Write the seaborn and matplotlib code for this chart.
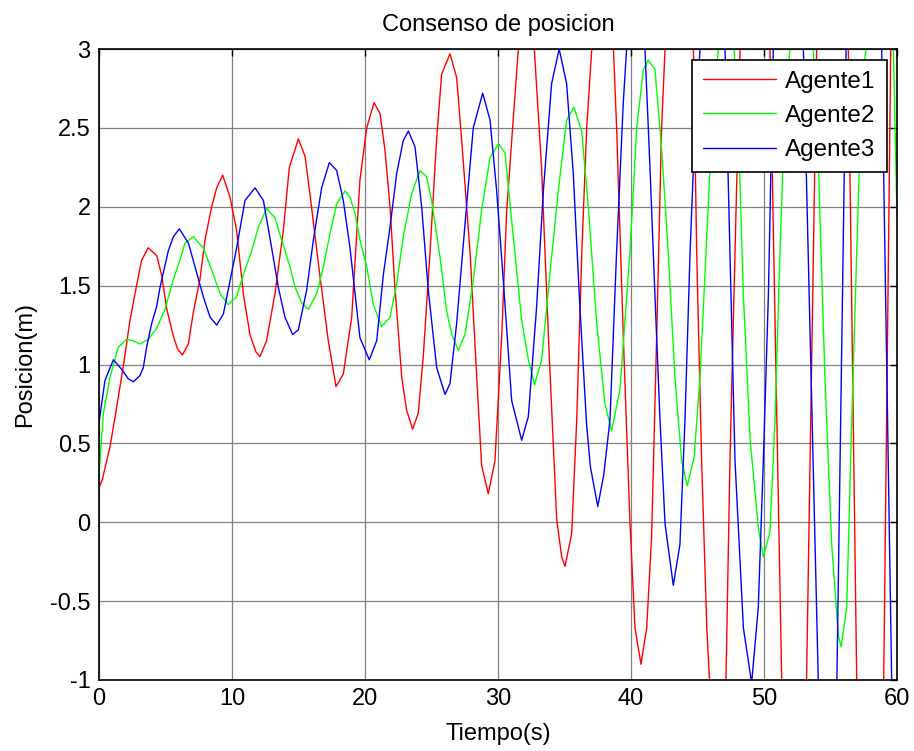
import matplotlib
matplotlib.use("Agg")
import matplotlib.pyplot as plt
import seaborn as sns
import pandas as pd

t_agente1 = [0.0, 0.25, 0.83, 1.33, 1.83, 2.33, 2.71, 3.2, 3.7, 4.34, 4.7, 5.1, 5.59, 5.9, 6.27, 6.72,
             7.09, 7.59, 7.97, 8.47, 8.85, 9.3, 9.85, 10.35, 10.85, 11.35, 11.8, 12.1, 12.6, 13.23,
             13.86, 14.31, 14.99, 15.49, 15.86, 16.6, 17.24, 17.82, 18.37, 19.0, 19.62, 20.13, 20.68,
             21.13, 21.5, 21.88, 22.25, 22.76, 23.13, 23.58, 24.0, 24.38, 24.88, 25.38, 25.76, 26.39,
             26.89, 27.27, 27.9, 28.4, 28.77, 29.27, 29.77, 30.28, 30.65, 31.15, 31.53, 32.13, 32.73,
             33.28, 33.79, 34.41, 34.79, 35.04, 35.54, 35.92, 36.3, 36.67, 37.05, 37.87, 38.68, 38.92,
             39.42, 39.92, 40.3, 40.75, 41.18, 41.55, 41.93, 42.3, 42.56, 43.62, 44.69, 44.94, 45.31,
             45.7, 45.9, 46.52, 47.14, 47.44, 47.82, 48.2, 49.3, 50.45, 51.33, 52.26, 53.2, 53.96,
             55.15, 56.34, 56.97, 58.0, 59.0, 59.53, 60.0]
y_agente1 = [0.22, 0.27, 0.48, 0.73, 0.99, 1.28, 1.45, 1.66, 1.74, 1.69, 1.57, 1.35, 1.18, 1.10, 1.06, 1.13,
             1.33, 1.54, 1.79, 2.0, 2.12, 2.2, 2.06, 1.85, 1.45, 1.19, 1.08, 1.05, 1.15, 1.45,
             1.85, 2.25, 2.43, 2.32, 2.08, 1.57, 1.15, 0.86, 0.94, 1.30, 2.17, 2.50, 2.66,
             2.59, 2.36, 2.0, 1.49, 0.92, 0.71, 0.59, 0.69, 1.05, 1.70, 2.42, 2.84, 2.97,
             2.82, 2.42, 1.71, 0.92, 0.36, 0.18, 0.39, 1.18, 1.97, 2.56, 3.0, 3.25, 3.0,
             2.24, 1.18, 0.02, -0.22, -0.28, -0.07, 0.65, 1.71, 2.5, 3.0, 3.6, 3.0, 2.5,
             1.18, 0.0, -0.67, -0.90, -0.67, -0.09, 1.18, 2.5, 3.0, 4.2, 3.0, 1.71, 0.39,
             -0.67, -1.0, -1.5, -1.0, 0.39, 1.71, 3.0, 4.7, 3.0, -1.0, -2.2, -1.0, 3.0,
             5.2, 3.0, -1.0, -2.8, -1.0, 3.0, 4.5]

t_agente2 = [0.0, 0.33, 0.83, 1.45, 2.08, 2.58, 3.08, 3.71, 4.34, 4.96, 5.59, 6.0, 6.47, 7.09, 7.84, 8.47,
             9.1, 9.72, 10.35, 10.85, 11.48, 11.98, 12.6, 13.23, 13.73, 14.36, 14.74, 15.24, 15.74,
             16.37, 16.87, 17.37, 17.87, 18.5, 18.87, 19.25, 19.62, 20.13, 20.63, 21.25, 21.88, 22.38,
             22.88, 23.5, 24.13, 24.63, 25.01, 25.64, 26.14, 26.52, 27.02, 27.52, 28.14, 28.77, 29.4,
             30.03, 30.53, 31.15, 31.78, 32.28, 32.75, 33.28, 33.91, 34.53, 35.16, 35.71, 36.29, 36.79,
             37.42, 38.04, 38.54, 39.17, 39.92, 40.43, 40.93, 41.3, 41.8, 42.3, 42.8, 43.3, 43.81,
             44.23, 44.74, 45.19, 45.64, 45.94, 46.32, 46.57, 47.16, 47.75, 48.07, 48.45, 48.96, 49.58,
             49.95, 50.45, 50.83, 51.2, 51.58, 51.95, 52.83, 53.71, 54.1, 54.58, 55.09, 55.59, 55.8,
             56.22, 56.6, 56.97, 57.35, 57.67, 58.7, 59.73, 60.0]
y_agente2 = [0.31, 0.69, 0.92, 1.11, 1.16, 1.15, 1.13, 1.16, 1.23, 1.35, 1.54, 1.64, 1.77, 1.81, 1.74, 1.60,
             1.45, 1.38, 1.43, 1.57, 1.72, 1.87, 1.99, 1.93, 1.79, 1.62, 1.49, 1.39, 1.35,
             1.45, 1.62, 1.83, 2.02, 2.10, 2.06, 1.96, 1.79, 1.62, 1.38, 1.24, 1.30, 1.51,
             1.81, 2.08, 2.23, 2.19, 2.04, 1.68, 1.34, 1.19, 1.09, 1.19, 1.53, 1.98, 2.31,
             2.40, 2.34, 1.81, 1.28, 1.03, 0.87, 1.03, 1.58, 2.10, 2.55, 2.63, 2.48, 2.0,
             1.26, 0.75, 0.58, 0.84, 1.71, 2.5, 2.87, 2.93, 2.87, 2.37, 1.71, 0.92, 0.39,
             0.23, 0.41, 0.92, 1.71, 2.24, 2.77, 3.0, 3.3, 3.0, 2.5, 1.44, 0.52, -0.04,
             -0.22, -0.06, 0.65, 1.71, 2.63, 3.0, 3.7, 3.0, 2.24, 0.92, -0.14, -0.72, -0.79,
             -0.54, 0.65, 1.71, 2.77, 3.0, 4.2, 3.0, 1.93]

t_agente3 = [0.0, 0.45, 1.08, 1.7, 2.2, 2.58, 3.08, 3.33, 3.58, 3.96, 4.34, 4.59, 5.21, 5.59, 6.04, 6.72,
             7.22, 7.84, 8.35, 8.85, 9.35, 9.85, 10.35, 10.98, 11.73, 12.36, 12.98, 13.48, 13.98,
             14.56, 14.99, 15.61, 16.12, 16.74, 17.32, 17.87, 18.37, 18.87, 19.25, 19.62, 20.32, 20.88,
             21.38, 21.88, 22.38, 22.88, 23.26, 23.76, 24.26, 24.76, 25.39, 26.02, 26.39, 26.89, 27.52,
             28.14, 28.85, 29.4, 29.9, 30.4, 31.03, 31.78, 32.28, 32.9, 33.41, 34.03, 34.6, 35.16,
             35.66, 36.16, 36.66, 36.95, 37.5, 37.95, 38.42, 38.92, 39.42, 39.67, 40.36, 41.05, 41.43,
             41.8, 42.18, 42.56, 43.18, 43.68, 44.06, 44.44, 44.81, 45.19, 46.13, 47.07, 47.44, 47.82,
             48.45, 49.07, 49.57, 49.95, 50.33, 50.7, 51.83, 52.96, 54.08, 54.78, 55.48, 56.17, 57.5,
             58.85, 59.6, 60.0]
y_agente3 = [0.63, 0.90, 1.03, 0.97, 0.91, 0.89, 0.93, 0.98, 1.11, 1.26, 1.37, 1.49, 1.72, 1.81, 1.86, 1.77,
             1.62, 1.43, 1.30, 1.25, 1.32, 1.53, 1.74, 2.04, 2.12, 2.04, 1.74, 1.49, 1.30,
             1.19, 1.22, 1.47, 1.79, 2.12, 2.28, 2.23, 2.04, 1.74, 1.45, 1.17, 1.03, 1.15,
             1.57, 1.87, 2.21, 2.42, 2.48, 2.38, 2.0, 1.47, 0.98, 0.81, 0.88, 1.26, 1.89,
             2.50, 2.72, 2.55, 2.10, 1.53, 0.77, 0.52, 0.67, 1.36, 2.10, 2.78, 3.0, 2.78,
             2.21, 1.36, 0.62, 0.35, 0.10, 0.30, 0.65, 1.72, 2.66, 3.0, 3.3, 3.0, 2.24,
             1.44, 0.65, -0.01, -0.40, -0.14, 0.65, 1.71, 2.5, 3.0, 3.8, 3.0, 1.71, 0.39,
             -0.67, -1.02, -0.54, 0.39, 1.44, 3.0, 4.3, 3.0, -1.0, -1.6, -1.0, 3.0, 5.0,
             3.0, -1.0, -2.5]

series_names = ["Agente1", "Agente2", "Agente3"]
x_ticks = [0, 10, 20, 30, 40, 50, 60]
y_ticks = [-1, -0.5, 0, 0.5, 1, 1.5, 2, 2.5, 3]
y_tick_labels = ["-1", "-0.5", "0", "0.5", "1", "1.5", "2", "2.5", "3"]

df = pd.concat([
    pd.DataFrame({"t": t_agente1, "y": y_agente1, "agente": series_names[0]}),
    pd.DataFrame({"t": t_agente2, "y": y_agente2, "agente": series_names[1]}),
    pd.DataFrame({"t": t_agente3, "y": y_agente3, "agente": series_names[2]}),
], ignore_index=True)

sns.set_style("white")
plt.rcParams["font.family"] = ["Liberation Sans", "DejaVu Sans"]
plt.rcParams["text.color"] = "black"
plt.rcParams["axes.labelcolor"] = "black"
plt.rcParams["xtick.color"] = "black"
plt.rcParams["ytick.color"] = "black"

fig = plt.figure(figsize=(9.14, 7.51), dpi=100)
ax = fig.add_axes([99 / 914, 1 - 680 / 751, 798 / 914, 631 / 751])

palette = {"Agente1": "#ff0000", "Agente2": "#00ff00", "Agente3": "#0000ff"}
sns.lineplot(data=df, x="t", y="y", hue="agente", palette=palette, estimator=None,
             sort=False, linewidth=1.0, ax=ax)

ax.set_xlim(0, 60)
ax.set_ylim(-1, 3)
ax.set_xticks(x_ticks)
ax.set_xticklabels([str(v) for v in x_ticks])
ax.set_yticks(y_ticks)
ax.set_yticklabels(y_tick_labels)
ax.grid(True, color="#808080", linewidth=0.9, linestyle="-")
ax.set_axisbelow(True)
ax.tick_params(direction="in", length=5, width=1.0, top=True, right=True,
               labelsize=17, colors="black", pad=6)
for s in ax.spines.values():
    s.set_color("black")
    s.set_linewidth(1.2)

ax.set_title("Consenso de posicion", fontsize=17, pad=13, color="black")
ax.set_xlabel("Tiempo(s)", fontsize=17, labelpad=9, color="black")
ax.set_ylabel("Posicion(m)", fontsize=17, labelpad=10, color="black")

leg = ax.legend(loc="upper right", bbox_to_anchor=(0.987, 0.983), borderaxespad=0,
                fontsize=17.5, handlelength=3.0, frameon=True, fancybox=False,
                labelspacing=0.5, borderpad=0.45, handletextpad=0.4)
leg.get_frame().set_edgecolor("black")
leg.get_frame().set_linewidth(1.2)
leg.get_frame().set_alpha(1)
leg.set_title(None)
for txt in leg.get_texts():
    txt.set_color("black")

fig.savefig("out.png", dpi=100, facecolor="white")
